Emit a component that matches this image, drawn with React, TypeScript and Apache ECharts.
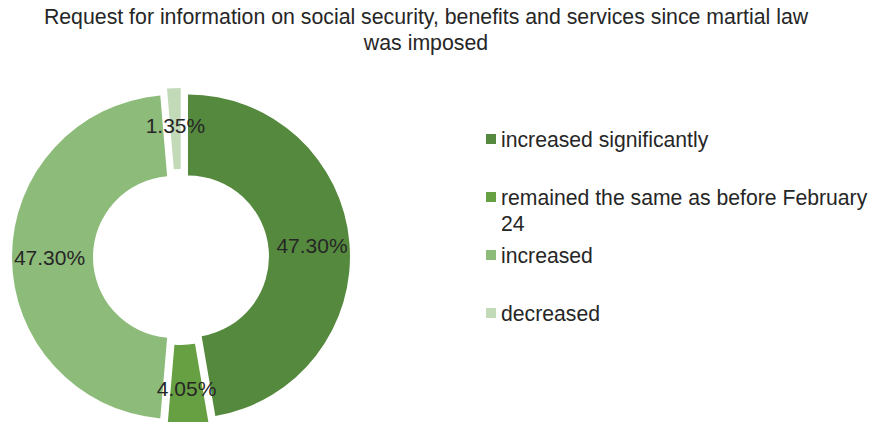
import React, { useEffect, useRef } from "react";
import * as echarts from "echarts";

const titleLines = [
  "Request for information on social security, benefits and services since martial law",
  "was imposed",
];
const categories = [
  "increased significantly",
  "remained the same as before February 24",
  "increased",
  "decreased",
];
const legendLabels = [
  "increased significantly",
  "\nremained the same as before February\n24",
  "increased",
  "decreased",
];
const values = [47.3, 4.05, 47.3, 1.35];
const colors = ["#558A3E", "#66A042", "#8DBB79", "#C3DAB9"];

const FONT = "'Liberation Sans', Arial, Helvetica, sans-serif";
const TEXT_COLOR = "#262626";

export default function App() {
  const ref = useRef<HTMLDivElement>(null);
  useEffect(() => {
    if (!ref.current) return;
    const chart = echarts.init(ref.current, null, { renderer: "svg" });
    const legendCenters = [139, 197, 255, 313];
    const legends = categories.map((name, i) => ({
      show: true,
      orient: "vertical",
      left: 486,
      top: legendCenters[i] - (i === 1 ? 39 : 13),
      padding: 0,
      icon: "rect",
      itemWidth: 10,
      itemHeight: 10,
      selectedMode: false,
      data: [name],
      formatter: () => legendLabels[i],
      textStyle: {
        fontFamily: FONT,
        fontSize: 21.2,
        lineHeight: 26,
        color: TEXT_COLOR,
      },
    }));
    chart.setOption({
      animation: false,
      backgroundColor: "#ffffff",
      title: {
        text: titleLines.join("\n"),
        left: 426,
        top: 4,
        padding: 0,
        textAlign: "center",
        textStyle: {
          fontFamily: FONT,
          fontSize: 21.3,
          fontWeight: "normal",
          lineHeight: 26,
          color: TEXT_COLOR,
        },
      },
      legend: legends,
      series: [
        {
          type: "pie",
          center: [181, 257],
          radius: [81, 162],
          startAngle: 90,
          clockwise: true,
          selectedMode: "multiple",
          selectedOffset: 7,
          avoidLabelOverlap: false,
          emphasis: { disabled: true },
          label: {
            show: true,
            position: "inside",
            fontFamily: FONT,
            fontSize: 21,
            color: TEXT_COLOR,
            formatter: (p: any) => Number(p.value).toFixed(2) + "%",
          },
          labelLine: { show: false },
          itemStyle: { borderWidth: 0 },
          data: categories.map((name, i) => ({
            name,
            value: values[i],
            selected: true,
            itemStyle: { color: colors[i] },
            select: { itemStyle: { color: colors[i] } },
          })),
        },
      ],
    });
    return () => chart.dispose();
  }, []);
  return (
    <div
      ref={ref}
      style={{ position: "absolute", left: 0, top: 0, width: 872, height: 422 }}
    />
  );
}
